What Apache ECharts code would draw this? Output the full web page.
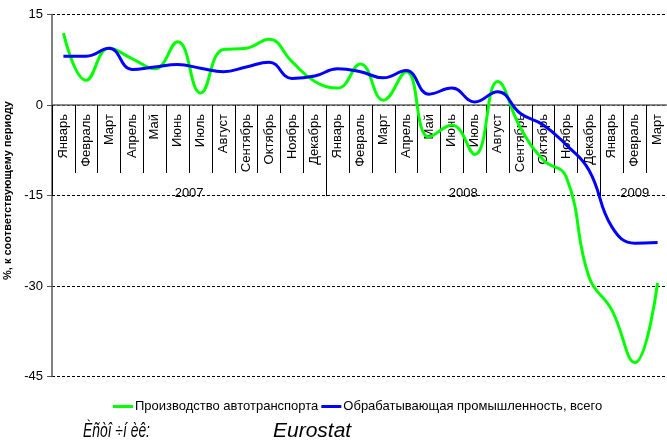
<!DOCTYPE html>
<html>
<head>
<meta charset="utf-8">
<script src="https://cdn.jsdelivr.net/npm/echarts@6/dist/echarts.min.js"></script>
<style>
  html, body { margin: 0; padding: 0; background: #fff; }
  #chart { width: 667px; height: 444px; }
</style>
</head>
<body>
<div id="chart"></div>
<script>
const months = [
  'Январь', 'Февраль', 'Март', 'Апрель', 'Май', 'Июнь',
  'Июль', 'Август', 'Сентябрь', 'Октябрь', 'Ноябрь', 'Декабрь',
  'Январь', 'Февраль', 'Март', 'Апрель', 'Май', 'Июнь',
  'Июль', 'Август', 'Сентябрь', 'Октябрь', 'Ноябрь', 'Декабрь',
  'Январь', 'Февраль', 'Март',
];
// производство автотранспорта
const autoProduction = [
  11.9, 4.1, 9.4, 7.7, 6.0, 10.5, 2.0, 9.2, 9.4, 10.9, 7.2, 3.9,
  2.8, 6.8, 0.8, 5.5, -5.3, -3.3, -8.2, 3.9, -3.8, -9.1, -11.9, -28.5,
  -34.0, -42.7, -29.5,
];
// обрабатывающая промышленность
const manufacturing = [
  8.1, 8.1, 9.4, 5.9, 6.3, 6.7, 6.1, 5.5, 6.3, 7.1, 4.4, 4.8,
  6.0, 5.5, 4.5, 5.7, 1.8, 2.8, 0.5, 2.2, -1.4, -3.3, -6.6, -10.8,
  -20.2, -22.9, -22.8,
];
const yearLabels = ['2007', '2008', '2009'];
const yearStarts = [0, 12, 24]; // номер месяца, с которого начинается год
const yearMiddles = [6, 18, 25.5];

const Y_MIN = -45;
const Y_MAX = 15;
const GRID_TOP = 14.5;
const GRID_H = 362;
// ось категорий проходит по нулю: сдвигаем её вверх от низа сетки
const zeroOffset = -GRID_H * (0 - Y_MIN) / (Y_MAX - Y_MIN);

const chart = echarts.init(document.getElementById('chart'));

const option = {
  animation: false,
  textStyle: { fontFamily: 'Liberation Sans, Arial, sans-serif' },
  grid: { left: 52, top: GRID_TOP, width: 617, height: GRID_H, outerBoundsMode: 'none' },
  xAxis: [
    {
      type: 'category',
      data: months,
      position: 'bottom',
      offset: zeroOffset,
      axisLine: { onZero: false, lineStyle: { color: '#666', width: 1.5 } },
      axisTick: { show: true, interval: 0, length: 68, lineStyle: { color: '#000', width: 1 } },
      axisLabel: {
        interval: 0, rotate: 90, margin: 9, color: '#000', fontSize: 13,
      },
      splitLine: { show: false },
    },
    {
      type: 'value',
      min: 0,
      max: months.length,
      position: 'bottom',
      offset: zeroOffset,
      axisLine: { show: false, onZero: false },
      axisTick: {
        show: true, length: 91, customValues: yearStarts,
        lineStyle: { color: '#000', width: 1 },
      },
      axisLabel: {
        customValues: yearMiddles,
        margin: 82,
        color: '#000',
        fontSize: 13,
        formatter: (v) => yearLabels[yearMiddles.indexOf(v)],
      },
      splitLine: { show: false },
    },
  ],
  yAxis: {
    type: 'value',
    min: Y_MIN,
    max: Y_MAX,
    interval: 15,
    name: '%, к соответствующему периоду',
    nameLocation: 'middle',
    nameGap: 34,
    nameTextStyle: { fontSize: 11, fontWeight: 'bold', color: '#000', padding: [0, 0, 0, 10] },
    axisLine: { show: true, lineStyle: { color: '#555', width: 1.5 } },
    axisTick: { show: true, length: 5, lineStyle: { color: '#555' } },
    axisLabel: { color: '#000', fontSize: 13, margin: 9 },
    splitLine: { show: true, lineStyle: { color: '#000', type: [3, 2], width: 1 } },
  },
  legend: {
    top: 395,
    left: 108,
    itemGap: 3,
    itemWidth: 20,
    itemHeight: 3,
    icon: 'rect',
    textStyle: { fontSize: 13, color: '#000', padding: [0, 0, 0, -3] },
    data: ['Производство автотранспорта', 'Обрабатывающая промышленность, всего'],
  },
  series: [
    {
      name: 'Производство автотранспорта',
      type: 'line',
      data: autoProduction,
      smooth: 0.45,
      symbol: 'none',
      lineStyle: { color: '#00ff00', width: 3 },
      itemStyle: { color: '#00ff00' },
      z: 3,
    },
    {
      name: 'Обрабатывающая промышленность, всего',
      type: 'line',
      data: manufacturing,
      smooth: 0.45,
      symbol: 'none',
      lineStyle: { color: '#0000ff', width: 3 },
      itemStyle: { color: '#0000ff' },
      z: 4,
    },
  ],
  graphic: [
    {
      type: 'text', x: 83, y: 421, scaleX: 0.66, scaleY: 1,
      style: { text: 'Èñòî ÷í èê:', font: 'italic 21px "Liberation Sans", sans-serif', fill: '#000' },
    },
    {
      type: 'text', x: 273, y: 421,
      style: { text: 'Eurostat', font: 'italic 21px "Liberation Sans", sans-serif', fill: '#000' },
    },
  ],
};

chart.setOption(option);
</script>
</body>
</html>
